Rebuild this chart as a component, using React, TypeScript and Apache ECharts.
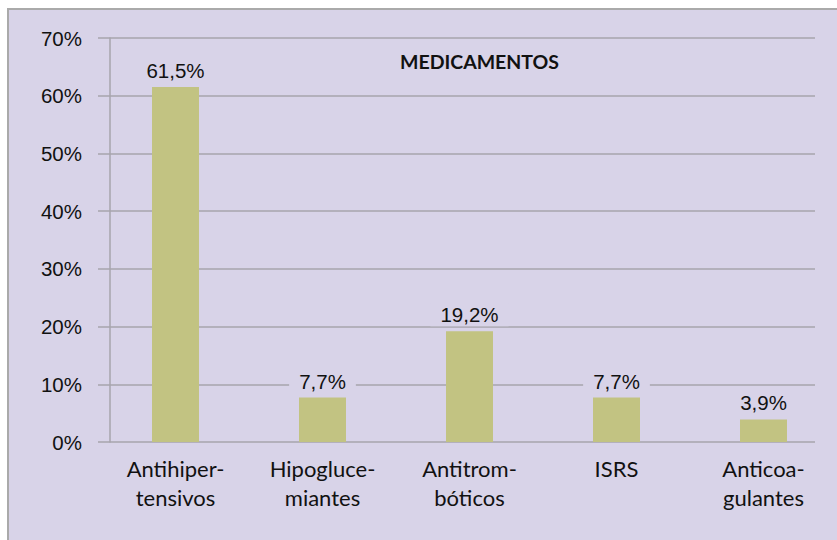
import React, { useEffect, useRef } from "react";
import * as echarts from "echarts";

const categories = ["Antihiper-\ntensivos", "Hipogluce-\nmiantes", "Antitrom-\nbóticos", "ISRS", "Anticoa-\ngulantes"];
const values = [61.5, 7.7, 19.2, 7.7, 3.9];
const yTicks = { min: 0, max: 70, interval: 10 };
const title = "MEDICAMENTOS";

const BG = "#d8d3e8";
const GRID = "#a7a5ac";

export default function App() {
  const ref = useRef<HTMLDivElement>(null);
  useEffect(() => {
    if (!ref.current) return;
    const chart = echarts.init(ref.current, undefined, { renderer: "svg" });
    chart.setOption({
      animation: false,
      backgroundColor: "transparent",
      title: {
        text: title,
        left: 400,
        top: 51,
        padding: 0,
        textStyle: { fontFamily: "Lato", fontWeight: "bold", fontSize: 19.5, color: "#111" },
      },
      grid: [
        { left: 102, right: 0, top: 38, bottom: 98 },
        { left: 110, right: 22, top: 38, bottom: 98 },
      ],
      xAxis: [
        {
          type: "category",
          gridIndex: 0,
          data: categories,
          axisLine: { show: false },
          axisTick: { show: false },
          axisLabel: {
            margin: 12,
            fontFamily: "Lato",
            fontSize: 22,
            lineHeight: 29,
            color: "#111",
            interval: 0,
          },
        },
        {
          type: "category",
          gridIndex: 1,
          data: categories,
          show: false,
        },
      ],
      yAxis: [
        {
          type: "value",
          gridIndex: 0,
          ...yTicks,
          show: false,
        },
        {
          type: "value",
          gridIndex: 1,
          ...yTicks,
          axisLine: { show: true, lineStyle: { color: GRID, width: 1.5 } },
          axisTick: { show: true, length: 12, lineStyle: { color: GRID, width: 1.5 } },
          splitLine: { show: true, lineStyle: { color: GRID, width: 1.5 } },
          axisLabel: {
            margin: 28,
            formatter: "{value}%",
            fontFamily: "Liberation Sans",
            fontSize: 20.5,
            color: "#111",
          },
        },
      ],
      series: [
        {
          type: "bar",
          xAxisIndex: 0,
          yAxisIndex: 0,
          data: values,
          barWidth: 47,
          itemStyle: { color: "#c2c382" },
          z: 5,
          label: {
            show: true,
            position: "top",
            distance: 5,
            formatter: (p: any) => String(p.value).replace(".", ",") + "%",
            fontFamily: "Liberation Sans",
            fontSize: 20.5,
            color: "#111",
            backgroundColor: BG,
            padding: [1, 10],
          },
        },
      ],
    });
    return () => chart.dispose();
  }, []);
  return (
    <div style={{ position: "fixed", left: 0, top: 0, width: 837, height: 540, background: "#fff" }}>
      <div
        style={{
          position: "absolute",
          left: 7,
          top: 8,
          right: 0,
          bottom: 0,
          background: BG,
          borderTop: "2px solid #aaaaaa",
          borderLeft: "2px solid #aaaaaa",
        }}
      />
      <div ref={ref} style={{ position: "absolute", left: 0, top: 0, width: 837, height: 540 }} />
    </div>
  );
}
